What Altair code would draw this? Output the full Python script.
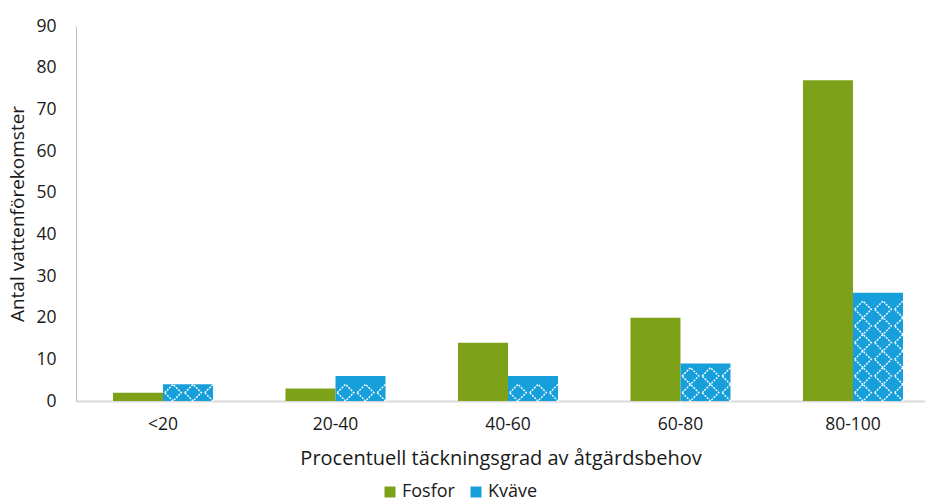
import altair as alt
import pandas as pd

categories = ["<20", "20-40", "40-60", "60-80", "80-100"]
fosfor = [2, 3, 14, 20, 77]
kvave = [4, 6, 6, 9, 26]
series = ["Fosfor", "Kväve"]
colors = ["#7ea11a", "#179fdb"]

rows = []
for c, f, k in zip(categories, fosfor, kvave):
    rows.append({"kategori": c, "serie": "Fosfor", "antal": f})
    rows.append({"kategori": c, "serie": "Kväve", "antal": k})
df = pd.DataFrame(rows)

# diamond lattice pattern cells for the Kväve bars (one row per 4 units, three columns)
CELL = 4
slots = ["F1", "F2", "F3", "K1", "K2", "K3"]
prow = []
for c, k in zip(categories, kvave):
    for j in range(int(k // CELL)):
        for s in ("K1", "K2", "K3"):
            prow.append({"kategori": c, "slot": s, "mitt": (j + 0.5) * CELL})
pdf = pd.DataFrame(prow)

FONT = "Open Sans"
TXT = "#1a1a1a"

xscale = alt.Scale(domain=categories, paddingInner=0.42, paddingOuter=0.171, align=0.627)
yscale = alt.Scale(domain=[0, 90])

bars = alt.Chart(df).mark_bar().encode(
    x=alt.X("kategori:N", sort=categories, scale=xscale,
            axis=alt.Axis(title="Procentuell täckningsgrad av åtgärdsbehov",
                          labelAngle=0, labelFontSize=17.5, titleFontSize=20,
                          labelPadding=14, titlePadding=16, ticks=False,
                          domainColor="#d9d9d9", domainWidth=2,
                          labelColor=TXT, titleColor=TXT,
                          labelFont=FONT, titleFont=FONT, titleFontWeight="normal")),
    xOffset=alt.XOffset("serie:N", sort=series,
                        scale=alt.Scale(domain=series, paddingInner=0, paddingOuter=0)),
    y=alt.Y("antal:Q", scale=yscale,
            axis=alt.Axis(title="Antal vattenförekomster", values=list(range(0, 91, 10)),
                          grid=False, ticks=False, labelFontSize=17.5, titleFontSize=19,
                          labelPadding=20, titlePadding=8,
                          domainColor="#bfbfbf", domainWidth=1,
                          labelColor=TXT, titleColor=TXT,
                          labelFont=FONT, titleFont=FONT, titleFontWeight="normal")),
    color=alt.Color("serie:N", sort=series,
                    scale=alt.Scale(domain=series, range=colors),
                    legend=alt.Legend(orient="none", legendX=305, legendY=457,
                                      direction="horizontal", title=None,
                                      symbolType="square", symbolSize=121,
                                      labelFontSize=18, labelFont=FONT, labelColor=TXT,
                                      columnPadding=12, labelOffset=3,
                                      symbolStrokeWidth=0)),
)

side = 50 / 3.0
pattern = alt.Chart(pdf).mark_point(shape="diamond", filled=False, stroke="white",
                                    strokeWidth=1.4, strokeDash=[2, 1.2],
                                    size=side * side, opacity=1).encode(
    x=alt.X("kategori:N", sort=categories, scale=xscale),
    xOffset=alt.XOffset("slot:N", sort=slots,
                        scale=alt.Scale(domain=slots, paddingInner=0, paddingOuter=0)),
    y=alt.Y("mitt:Q", scale=yscale),
)

chart = alt.layer(bars, pattern).resolve_scale(xOffset="independent").properties(
    width=849, height=375,
    padding={"left": 8, "top": 17, "right": 0, "bottom": 0},
).configure_view(stroke=None)

chart.save("out.html", embed_options={"renderer": "svg", "actions": False})
